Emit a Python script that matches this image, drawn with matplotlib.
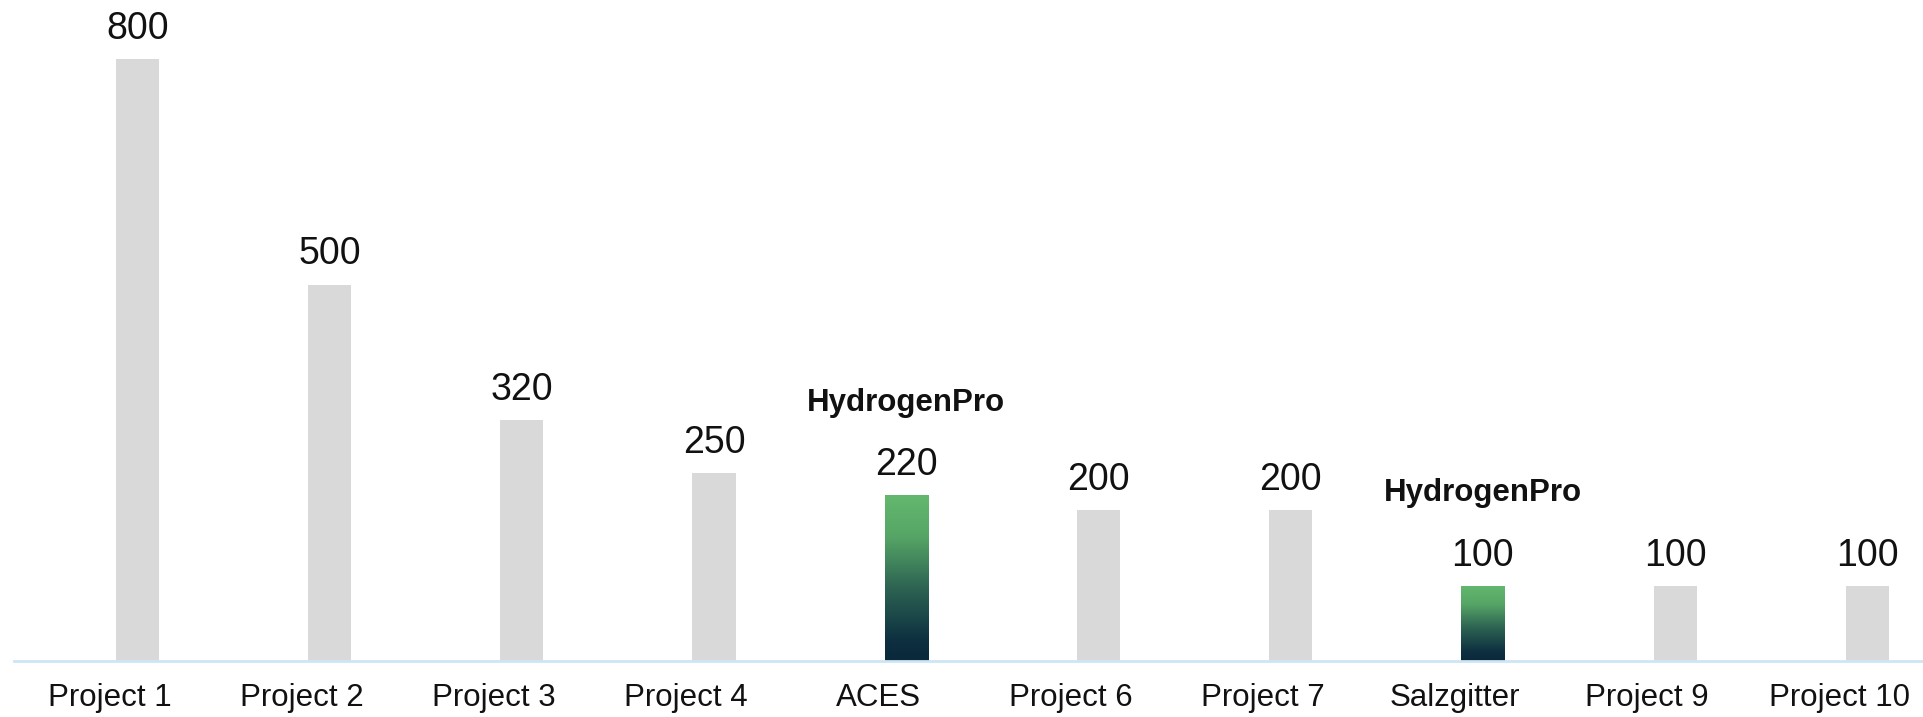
import numpy as np
import matplotlib
matplotlib.use("Agg")
import matplotlib.pyplot as plt
from matplotlib.colors import LinearSegmentedColormap

# ----------------------------- data -----------------------------
projects = ["Project 1", "Project 2", "Project 3", "Project 4", "ACES",
            "Project 6", "Project 7", "Salzgitter", "Project 9", "Project 10"]
capacity = [800, 500, 320, 250, 220, 200, 200, 100, 100, 100]
highlight = ["ACES", "Salzgitter"]     # HydrogenPro projects
logo_text = "HydrogenPro"

GREY = "#D9D9D9"
AXIS_BLUE = "#CDE6F6"
grad = LinearSegmentedColormap.from_list(
    "hpro", [(0.0, "#0A293B"), (0.12, "#0D2F40"), (0.45, "#2E6553"),
             (0.75, "#56A566"), (1.0, "#63B86E")])

plt.rcParams["font.family"] = ["Liberation Sans", "DejaVu Sans"]

fig = plt.figure(figsize=(19.23, 7.17), dpi=100)
ax = fig.add_axes([14 / 1923, 56 / 717, 1 - 14 / 1923, 661 / 717])

x = np.arange(len(projects))
width = 0.224
colors = ["none" if p in highlight else GREY for p in projects]
bars = ax.bar(x, capacity, width=width, color=colors, edgecolor="none", zorder=2)

# gradient fill for the HydrogenPro bars
for b, p in zip(bars, projects):
    if p not in highlight:
        continue
    x0, w, h = b.get_x(), b.get_width(), b.get_height()
    g = np.linspace(0, 1, 256).reshape(-1, 1)
    im = ax.imshow(g, cmap=grad, origin="lower", aspect="auto",
                   extent=(x0, x0 + w, 0, h), zorder=2)
    im.set_clip_path(b)
    ax.annotate(logo_text, (b.get_x() + w / 2, h), xytext=(0, 61),
                textcoords="offset points", ha="center", va="baseline",
                fontsize=22.5, fontweight="bold", color="#111111")

# value labels
for xi, v in zip(x, capacity):
    ax.annotate(f"{v}", (xi, v), xytext=(0, 14.5), textcoords="offset points",
                ha="center", va="baseline", fontsize=27, color="#111111")

ax.set_xlim(-0.642, 9.29)
ax.set_ylim(0, 878)
# category labels sit slightly left of the bars (as in the source chart)
ax.set_xticks(x - 0.146)
ax.set_xticklabels(projects, fontsize=22.5, color="#111111")
ax.tick_params(axis="x", length=0, pad=16)
ax.set_yticks([])
for s in ["top", "right", "left"]:
    ax.spines[s].set_visible(False)
ax.spines["bottom"].set_color(AXIS_BLUE)
ax.spines["bottom"].set_linewidth(2)

fig.savefig("out.png", dpi=100)
